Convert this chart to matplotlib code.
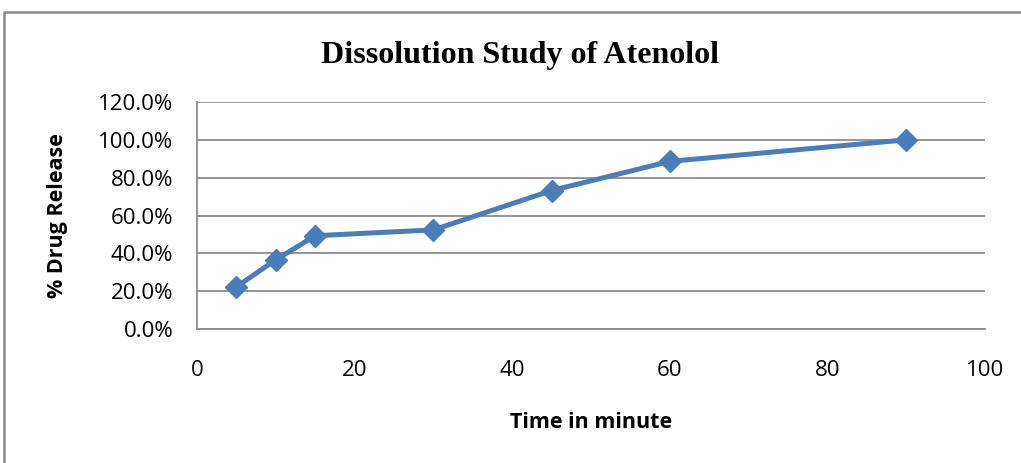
import matplotlib.pyplot as plt
from matplotlib.patches import Rectangle
from matplotlib.ticker import FuncFormatter

# dissolution data
time_min = [5, 10, 15, 30, 45, 60, 90]
drug_release = [22.3, 36.6, 49.3, 52.4, 73.2, 88.6, 100.0]

W, H = 1021, 463
fig = plt.figure(figsize=(W / 100, H / 100), dpi=100)
ax = fig.add_axes([197 / W, 1 - 329 / H, (985 - 197) / W, (329 - 102) / H])

ax.plot(time_min, drug_release, color='#4a7ebb', lw=3.6, marker='D',
        markersize=11, markeredgecolor='#4a7ebb', zorder=3, clip_on=False)

ax.set_xlim(0, 100)
ax.set_ylim(0, 120)
ax.set_xticks(range(0, 101, 20))
ax.set_yticks(range(0, 121, 20))
ax.yaxis.set_major_formatter(FuncFormatter(lambda v, p: f'{v:.1f}%'))
ax.grid(axis='y', color='#8c8c8c', lw=1.3)
ax.set_axisbelow(True)
for s in ['top', 'right']:
    ax.spines[s].set_visible(False)
for s in ['left', 'bottom']:
    ax.spines[s].set_color('#8c8c8c')
    ax.spines[s].set_linewidth(1.3)
ax.tick_params(length=0, labelsize=16)
ax.tick_params(axis='y', pad=17)
ax.tick_params(axis='x', pad=22)
for lab in ax.get_xticklabels() + ax.get_yticklabels():
    lab.set_family('Open Sans')

ax.set_xlabel('Time in minute', fontsize=15.5, fontweight='bold', family='Open Sans', va='center')
ax.set_ylabel('% Drug Release', fontsize=15.5, fontweight='bold', family='Open Sans', va='center')
ax.xaxis.set_label_coords(0.5, (329 - 423) / 227)
ax.yaxis.set_label_coords((58 - 197) / 788, 0.5)

fig.text(520 / W, 1 - 55 / H, 'Dissolution Study of Atenolol', ha='center', va='center',
         fontsize=23, fontweight='bold', family='Liberation Serif')

# outer chart frame (cut off on right and bottom)
fig.add_artist(Rectangle((3.5 / W, -0.1), 1.2, 1.1 - 12.5 / H, transform=fig.transFigure,
                         fill=False, edgecolor='#8a8a8a', lw=1.8))

fig.savefig('out.png', dpi=100)
